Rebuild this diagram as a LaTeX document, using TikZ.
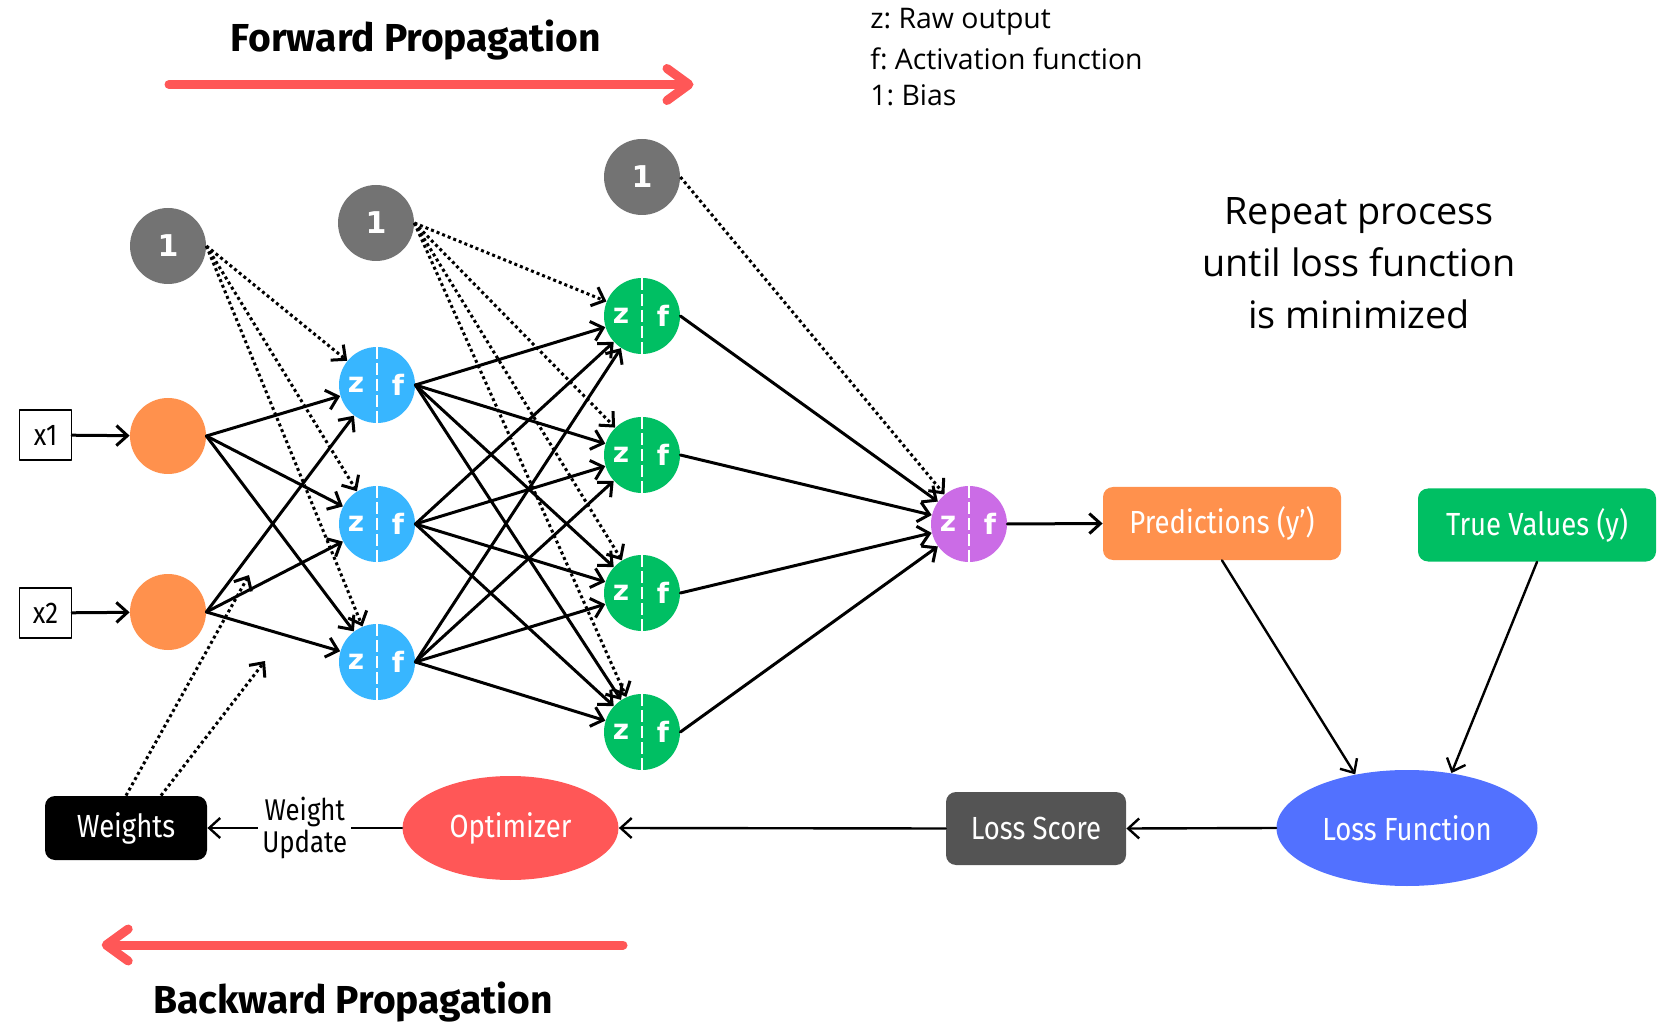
\documentclass[tikz,border=0pt]{standalone}
\usepackage{fontspec}
\setmainfont{Open Sans}
\newfontfamily\labelfont{Fira Sans}[FakeStretch=0.86]
\newfontfamily\titlefont{Fira Sans}
\newfontfamily\neurofont{DejaVu Sans}
\usetikzlibrary{arrows.meta,shapes.geometric}
\frenchspacing
\definecolor{canvared}{HTML}{FF5757}
\definecolor{canvaorange}{HTML}{FF914D}
\definecolor{canvablue}{HTML}{38B6FF}
\definecolor{canvagreen}{HTML}{00BF63}
\definecolor{canvapurple}{HTML}{CB6CE6}
\definecolor{canvaindigo}{HTML}{5271FF}
\definecolor{biasgray}{HTML}{737373}
\definecolor{scoregray}{HTML}{545454}
\tikzset{
  ball/.style={circle, inner sep=0pt, minimum size=38pt, fill=#1},
  bias/.style={ball=biasgray, text=white, font=\neurofont\bfseries\fontsize{15}{15}\selectfont},
  zf/.style={text=white, inner sep=0pt, font=\neurofont\bfseries\fontsize{14}{14}\selectfont},
  neuron/.style={ball=#1, path picture={
    \draw[white, line width=1.4pt, line cap=butt, dash pattern=on 6pt off 2pt] (path picture bounding box.north) -- (path picture bounding box.south);
    \node[zf] at ([xshift=-10.5pt]path picture bounding box.center) {z};
    \node[zf] at ([xshift=10.5pt]path picture bounding box.center) {f};}},
  inbox/.style={draw, line width=0.7pt, minimum width=26pt, minimum height=25pt, inner sep=0pt, font=\labelfont\fontsize{15}{15}\selectfont},
  tag/.style={rectangle, rounded corners=5pt, fill=#1, text=white, minimum width=119pt, minimum height=36.5pt, font=\labelfont\fontsize{16}{16}\selectfont},
  oval/.style={ellipse, inner sep=0pt, fill=#1, text=white, font=\labelfont\fontsize{16}{16}\selectfont},
  title/.style={font=\titlefont\bfseries\fontsize{19.5}{19.5}\selectfont},
  legend/.style={anchor=west, inner sep=0pt, font=\fontsize{14.2}{14.2}\selectfont}
}
\begin{document}
\begin{tikzpicture}[x=0.5pt, y=-0.5pt, line join=round, line cap=round, >={Straight Barb[length=5.5pt,width=10pt]},
  link/.style={->, line width=1.5pt}, thinlink/.style={->, line width=1.2pt},
  biaslink/.style={->, line width=1.5pt, line cap=butt, dash pattern=on 1.5pt off 1.5pt},
  bigarrow/.style={canvared, line width=4.5pt, -{Straight Barb[length=11pt,width=16pt,round]}}]
\def \lx{168};
\def \hx{377};
\def \gx{642};
\useasboundingbox (0,0) rectangle (1678,1032);
\node[title] (fwd) at (416,40) {Forward Propagation};
\node[title] (bwd) at (353,1002) {Backward Propagation};
\coordinate (fw0) at (169,84.5); \coordinate (fw1) at (693.5,84.5);
\coordinate (bw0) at (623,945); \coordinate (bw1) at (101.7,945);
\draw[bigarrow] (fw0) -- (fw1);
\draw[bigarrow] (bw0) -- (bw1);
\foreach \t/\y [count=\n] in {z: Raw output/21.5, f: Activation function/59, 1: Bias/95}{\node[legend] (key\n) at (870,\y) {\t};}
\node[align=center, font=\fontsize{18.9}{26}\selectfont] (repeat) at (1359,263) {Repeat process\\until loss function\\is minimized};
\node[inbox] (x1) at (45.5,435) {x1};
\node[inbox] (x2) at (45.5,613) {x2};
\node[ball=canvaorange] (i1) at (\lx,436) {};
\node[ball=canvaorange] (i2) at (\lx,612) {};
\node[bias] (b1) at (\lx,246) {1};
\node[bias] (b2) at (376,223) {1};
\node[bias] (b3) at (\gx,177) {1};
\foreach \n/\y in {1/385,2/524,3/662}{\node[neuron=canvablue] (h\n) at (\hx,\y) {};}
\foreach \n/\y in {1/316,2/455,3/593,4/732}{\node[neuron=canvagreen] (g\n) at (\gx,\y) {};}
\node[neuron=canvapurple] (o) at (969,524) {};
\foreach \i in {1,2}{\draw[link] (x\i) -- (i\i);
  \foreach \j in {1,2,3}{\draw[link] (i\i.east) -- (h\j);}}
\foreach \j in {1,2,3}{\draw[biaslink] (b1.east) -- (h\j);
  \foreach \k in {1,...,4}{\draw[link] (h\j.east) -- (g\k);}}
\foreach \k in {1,...,4}{\draw[biaslink] (b2.east) -- (g\k); \draw[link] (g\k.east) -- (o);}
\draw[biaslink] (b3.east) -- (o);
\node[tag=canvaorange] (pred) at (1222,523.5) {Predictions (y’)};
\node[tag=canvagreen] (true) at (1537,525) {True Values (y)};
\node[oval=canvaindigo, minimum width=130.5pt, minimum height=58pt] (loss) at (1407,828) {Loss Function};
\node[tag=scoregray, minimum width=90pt] (score) at (1036,828.5) {Loss Score};
\node[oval=canvared, minimum width=108pt, minimum height=52pt] (opt) at (510.5,828) {Optimizer};
\node[tag=black, minimum width=81pt, minimum height=32pt] (wts) at (126,828) {Weights};
\draw[link] (o.east) -- (pred.west);
\draw[thinlink] (pred.south) -- (loss.134);
\draw[thinlink] (true.south) -- (loss.51);
\draw[thinlink] (loss.west) -- (score.east);
\draw[thinlink] (score.west) -- (opt.east);
\draw[thinlink] (opt.west) -- node[fill=white, align=center, inner sep=2pt, font=\labelfont\fontsize{15}{16}\selectfont] (upd) {Weight\\Update} (wts.east);
\coordinate (w1) at (249,575);
\coordinate (w2) at (265,661);
\draw[biaslink] (wts.north) -- (w1);
\draw[biaslink] ([xshift=17.5pt]wts.north) -- (w2);
\end{tikzpicture}
\end{document}
